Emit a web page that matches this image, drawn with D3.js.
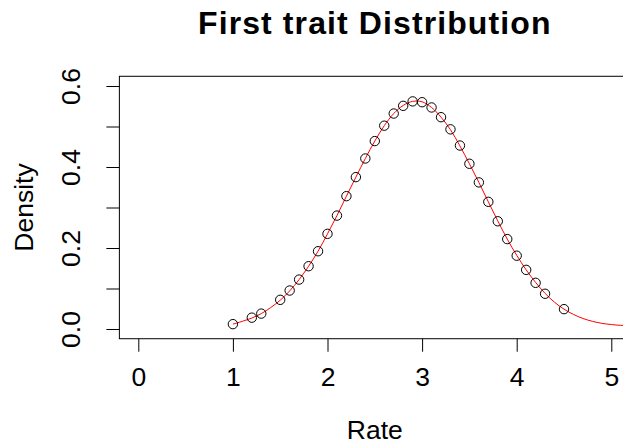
<!DOCTYPE html>
<html>
<head>
<meta charset="utf-8">
<script src="https://cdn.jsdelivr.net/npm/d3@7"></script>
<style>
  html, body { margin: 0; padding: 0; background: #fff; }
  svg { display: block; }
  text { font-family: "Liberation Sans", Arial, sans-serif; fill: #000; }
</style>
</head>
<body>
<script>
// ---- data ----
const pointRate = [1.0, 1.2, 1.3, 1.5, 1.6, 1.7, 1.8, 1.9, 2.0, 2.1, 2.2, 2.3, 2.4, 2.5, 2.6, 2.7, 2.8, 2.9,
                   3.0, 3.1, 3.2, 3.3, 3.4, 3.5, 3.6, 3.7, 3.8, 3.9, 4.0, 4.1, 4.2, 4.3, 4.5];
const pointDensity = [0.012, 0.028, 0.038, 0.072, 0.095, 0.122, 0.155, 0.192, 0.235, 0.280, 0.328, 0.375, 0.421,
                      0.464, 0.502, 0.532, 0.551, 0.562, 0.560, 0.547, 0.523, 0.493, 0.453, 0.408, 0.362, 0.314,
                      0.266, 0.222, 0.181, 0.146, 0.114, 0.087, 0.049];
const curveRate = [1.0, 1.1, 1.2, 1.3, 1.4, 1.5, 1.6, 1.7, 1.8, 1.9, 2.0, 2.1, 2.2, 2.3, 2.4, 2.5, 2.6, 2.7, 2.8,
                   2.9, 3.0, 3.1, 3.2, 3.3, 3.4, 3.5, 3.6, 3.7, 3.8, 3.9, 4.0, 4.1, 4.2, 4.3, 4.4, 4.5, 4.6, 4.7,
                   4.8, 4.9, 5.0, 5.1, 5.2];
const curveDensity = [0.012, 0.019, 0.027, 0.038, 0.053, 0.071, 0.094, 0.122, 0.155, 0.192, 0.235, 0.280, 0.328,
                      0.375, 0.421, 0.464, 0.502, 0.532, 0.552, 0.562, 0.561, 0.547, 0.523, 0.492, 0.452, 0.408,
                      0.362, 0.314, 0.267, 0.222, 0.182, 0.146, 0.115, 0.088, 0.066, 0.049, 0.036, 0.026, 0.019,
                      0.014, 0.011, 0.009, 0.009];
const xTicks = [0, 1, 2, 3, 4, 5];
const yTicks = [0.0, 0.1, 0.2, 0.3, 0.4, 0.5, 0.6];
const yTickLabels = ["0.0", "", "0.2", "", "0.4", "", "0.6"];
const titleText = "First trait Distribution";
const xLabel = "Rate";
const yLabel = "Density";

// ---- layout ----
const W = 623, H = 446;
const svg = d3.select("body").append("svg").attr("width", W).attr("height", H);

const x = d3.scaleLinear().domain([0, 5]).range([138.3, 611.3]);
const y = d3.scaleLinear().domain([0, 0.6]).range([329, 86]);
const xPad = 0.2, yPad = 0.024;
const boxL = x(-xPad), boxR = x(5 + xPad), boxT = y(0.6 + yPad), boxB = y(-yPad);

const fs = 26.5;

// box
svg.append("rect")
  .attr("x", boxL).attr("y", boxT)
  .attr("width", boxR - boxL).attr("height", boxB - boxT)
  .attr("fill", "none").attr("stroke", "#000").attr("stroke-width", 1);

// x axis
const xAxis = d3.axisBottom(x).tickValues(xTicks).tickFormat(d3.format("d")).tickSize(13).tickPadding(7);
const gx = svg.append("g").attr("transform", `translate(0,${boxB})`).call(xAxis);
gx.select(".domain").remove();
gx.selectAll("text").style("font-size", fs + "px").attr("fill", "#000").attr("dy", "0.71em").attr("y", 28.5);
gx.selectAll("line").attr("stroke", "#000");

// y axis
const yAxis = d3.axisLeft(y).tickValues(yTicks).tickFormat((d, i) => yTickLabels[i]).tickSize(13);
const gy = svg.append("g").attr("transform", `translate(${boxL},0)`).call(yAxis);
gy.select(".domain").remove();
gy.selectAll("line").attr("stroke", "#000");
gy.selectAll(".tick text")
  .style("font-size", fs + "px").attr("fill", "#000")
  .attr("x", null).attr("dy", null)
  .attr("text-anchor", "middle")
  .attr("transform", "translate(-39.5,0) rotate(-90)");

// curve
const line = d3.line()
  .x((d, i) => x(curveRate[i]))
  .y((d, i) => y(curveDensity[i]))
  .curve(d3.curveCatmullRom);
svg.append("path")
  .datum(curveRate)
  .attr("d", line)
  .attr("fill", "none")
  .attr("stroke", "#ff0000")
  .attr("stroke-width", 1);

// points
svg.append("g").selectAll("circle")
  .data(pointRate)
  .join("circle")
  .attr("cx", (d) => x(d))
  .attr("cy", (d, i) => y(pointDensity[i]))
  .attr("r", 4.7)
  .attr("fill", "none")
  .attr("stroke", "#000")
  .attr("stroke-width", 1);

// title
svg.append("text")
  .attr("x", (boxL + boxR) / 2).attr("y", 34.3)
  .attr("text-anchor", "middle")
  .style("font-size", "32px").style("font-weight", "bold")
  .style("letter-spacing", "1.1px")
  .text(titleText);

// axis labels
svg.append("text")
  .attr("x", (boxL + boxR) / 2).attr("y", 438.5)
  .attr("text-anchor", "middle")
  .style("font-size", fs + "px")
  .text(xLabel);

svg.append("text")
  .attr("transform", `translate(33.3,${(boxT + boxB) / 2}) rotate(-90)`)
  .attr("text-anchor", "middle")
  .style("font-size", fs + "px")
  .text(yLabel);
</script>
</body>
</html>
